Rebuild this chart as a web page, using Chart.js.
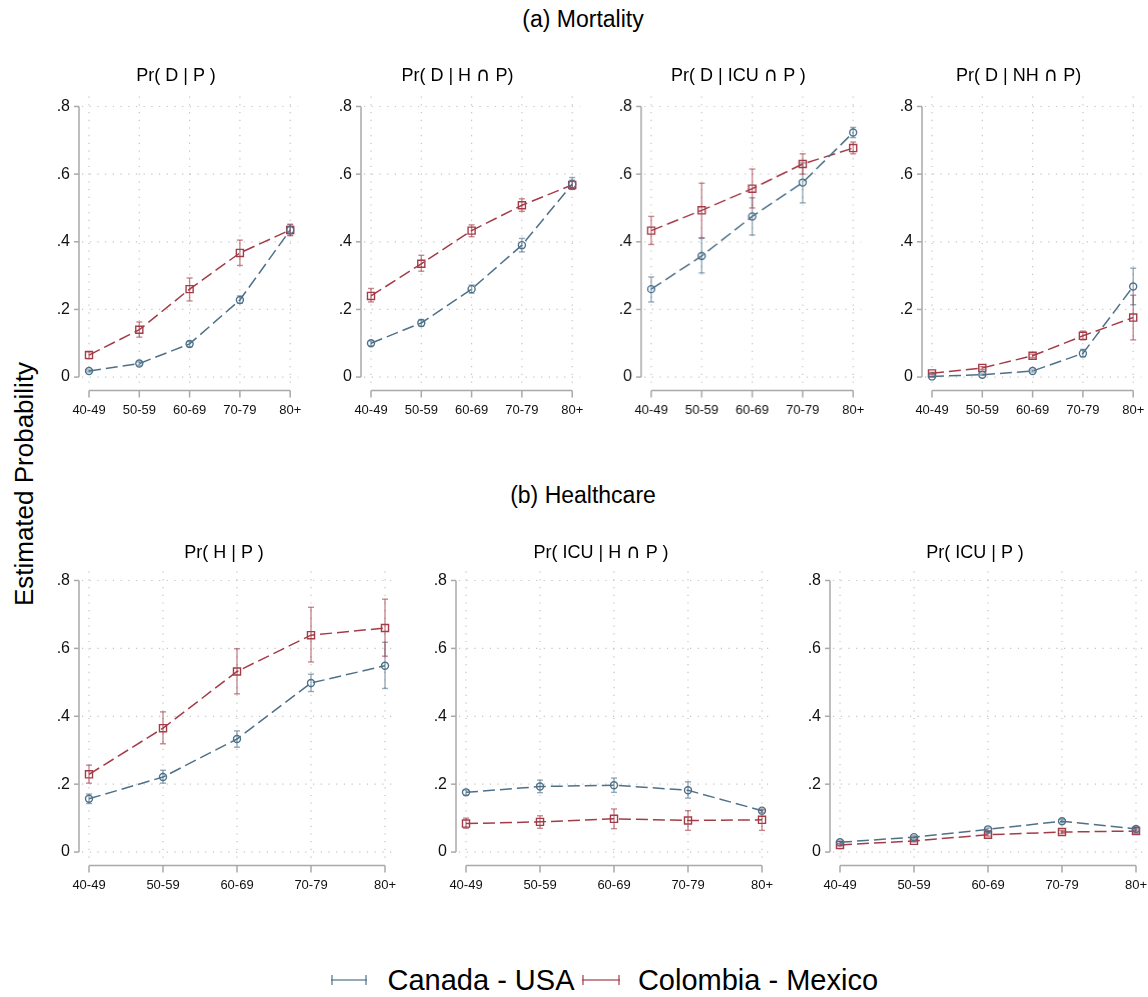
<!DOCTYPE html>
<html>
<head>
<meta charset="utf-8">
<script src="https://cdn.jsdelivr.net/npm/chart.js@4.4.0/dist/chart.umd.min.js"></script>
<style>
  body { margin: 0; width: 1148px; height: 997px; background: #fff; position: relative; overflow: hidden;
         font-family: Arial, "Liberation Sans", sans-serif; color: #000; }
  .box { position: absolute; }
  .txt { position: absolute; transform: translate(-50%, -50%); white-space: nowrap; }
  .cap { font-family: "DejaVu Sans", sans-serif; font-size: 1.1em; line-height: 1; }
  .key { position: absolute; height: 2px; }
  .key:before, .key:after { content: ""; position: absolute; top: -4px; width: 2px; height: 10px; background: inherit; }
  .key:before { left: 0; }
  .key:after { right: 0; }
</style>
</head>
<body>
<div class="txt" style="left:583px;top:19px;font-size:23px">(a) Mortality</div>
<div class="txt" style="left:583px;top:495px;font-size:23px">(b) Healthcare</div>
<div class="txt" style="left:24px;top:484px;font-size:26px;transform:translate(-50%,-50%) rotate(-90deg)">Estimated Probability</div>

<div class="key" style="left:331px;top:979px;width:36px;background:rgba(78,113,138,0.6)"></div>
<div class="txt" style="left:481px;top:980px;font-size:29px">Canada - USA</div>
<div class="key" style="left:582px;top:979px;width:38px;background:rgba(164,60,72,0.6)"></div>
<div class="txt" style="left:758px;top:980px;font-size:29px">Colombia - Mexico</div>

<script>
// ==================== DATA ====================
const ageGroups = ['40-49', '50-59', '60-69', '70-79', '80+'];
const yTicks = [0, 0.2, 0.4, 0.6, 0.8];
const yTickLabels = ['0', '.2', '.4', '.6', '.8'];
const seriesNames = ['Canada - USA', 'Colombia - Mexico'];

// Pr( D | P )
const dP_can   = [0.018, 0.040, 0.098, 0.228, 0.435];
const dP_canLo = [0.015, 0.035, 0.090, 0.218, 0.420];
const dP_canHi = [0.021, 0.045, 0.105, 0.240, 0.450];
const dP_col   = [0.065, 0.140, 0.260, 0.367, 0.435];
const dP_colLo = [0.055, 0.118, 0.225, 0.330, 0.418];
const dP_colHi = [0.075, 0.163, 0.293, 0.405, 0.452];

// Pr( D | H n P )
const dHP_can   = [0.100, 0.160, 0.260, 0.390, 0.570];
const dHP_canLo = [0.093, 0.150, 0.248, 0.370, 0.555];
const dHP_canHi = [0.107, 0.170, 0.272, 0.410, 0.590];
const dHP_col   = [0.240, 0.335, 0.433, 0.508, 0.568];
const dHP_colLo = [0.222, 0.313, 0.415, 0.490, 0.555];
const dHP_colHi = [0.262, 0.360, 0.450, 0.527, 0.582];

// Pr( D | ICU n P )
const dIP_can   = [0.260, 0.358, 0.475, 0.575, 0.723];
const dIP_canLo = [0.222, 0.308, 0.420, 0.515, 0.708];
const dIP_canHi = [0.296, 0.410, 0.530, 0.633, 0.738];
const dIP_col   = [0.433, 0.493, 0.557, 0.630, 0.677];
const dIP_colLo = [0.392, 0.412, 0.500, 0.600, 0.660];
const dIP_colHi = [0.475, 0.573, 0.615, 0.660, 0.695];

// Pr( D | NH n P )
const dNP_can   = [0.002, 0.007, 0.018, 0.070, 0.268];
const dNP_canLo = [0.001, 0.005, 0.015, 0.060, 0.214];
const dNP_canHi = [0.003, 0.009, 0.021, 0.082, 0.322];
const dNP_col   = [0.011, 0.027, 0.063, 0.122, 0.176];
const dNP_colLo = [0.008, 0.023, 0.058, 0.110, 0.110];
const dNP_colHi = [0.014, 0.031, 0.068, 0.136, 0.242];

// Pr( H | P )
const hP_can   = [0.157, 0.221, 0.333, 0.498, 0.549];
const hP_canLo = [0.143, 0.203, 0.309, 0.473, 0.482];
const hP_canHi = [0.171, 0.241, 0.357, 0.524, 0.618];
const hP_col   = [0.229, 0.365, 0.532, 0.639, 0.660];
const hP_colLo = [0.203, 0.319, 0.466, 0.560, 0.577];
const hP_colHi = [0.256, 0.413, 0.599, 0.721, 0.745];

// Pr( ICU | H n P )
const iHP_can   = [0.176, 0.193, 0.197, 0.182, 0.122];
const iHP_canLo = [0.168, 0.175, 0.176, 0.159, 0.117];
const iHP_canHi = [0.183, 0.212, 0.218, 0.207, 0.127];
const iHP_col   = [0.084, 0.089, 0.098, 0.093, 0.095];
const iHP_colLo = [0.070, 0.070, 0.069, 0.064, 0.064];
const iHP_colHi = [0.100, 0.107, 0.127, 0.122, 0.124];

// Pr( ICU | P )
const iP_can   = [0.029, 0.044, 0.067, 0.091, 0.068];
const iP_canLo = [0.026, 0.041, 0.063, 0.086, 0.062];
const iP_canHi = [0.032, 0.048, 0.071, 0.096, 0.074];
const iP_col   = [0.021, 0.033, 0.051, 0.059, 0.062];
const iP_colLo = [0.018, 0.030, 0.047, 0.054, 0.056];
const iP_colHi = [0.024, 0.036, 0.055, 0.064, 0.068];

// ==================== LAYOUT ====================
const BLUE = '#4e718a', BLUE_CI = 'rgba(78,113,138,0.6)';
const RED = '#a43c48', RED_CI = 'rgba(164,60,72,0.6)';
const GRID = '#c4c4c4', AXIS = '#a9a9a9';

const rows = [
  { zeroY: 377, topTickY: 103, chartTop: 93, chartBottom: 384, step: 50.3, titleY: 75, titleDx: 97,
    axes: [79, 360.5, 641.4, 921.6] },
  { zeroY: 852, topTickY: 577, chartTop: 568, chartBottom: 859, step: 74, titleY: 552, titleDx: 145,
    axes: [79, 456, 830] }
];

const CAP = '<span class="cap">\u2229</span>';
const panels = [
  { title: 'Pr( D | P )',              row: 0, col: 0, a: [dP_can, dP_canLo, dP_canHi],   b: [dP_col, dP_colLo, dP_colHi] },
  { title: 'Pr( D | H ' + CAP + ' P)',   row: 0, col: 1, a: [dHP_can, dHP_canLo, dHP_canHi], b: [dHP_col, dHP_colLo, dHP_colHi] },
  { title: 'Pr( D | ICU ' + CAP + ' P )', row: 0, col: 2, a: [dIP_can, dIP_canLo, dIP_canHi], b: [dIP_col, dIP_colLo, dIP_colHi] },
  { title: 'Pr( D | NH ' + CAP + ' P)',  row: 0, col: 3, a: [dNP_can, dNP_canLo, dNP_canHi], b: [dNP_col, dNP_colLo, dNP_colHi] },
  { title: 'Pr( H | P )',              row: 1, col: 0, a: [hP_can, hP_canLo, hP_canHi],   b: [hP_col, hP_colLo, hP_colHi] },
  { title: 'Pr( ICU | H ' + CAP + ' P )', row: 1, col: 1, a: [iHP_can, iHP_canLo, iHP_canHi], b: [iHP_col, iHP_colLo, iHP_colHi] },
  { title: 'Pr( ICU | P )',            row: 1, col: 2, a: [iP_can, iP_canLo, iP_canHi],   b: [iP_col, iP_colLo, iP_colHi] }
];

const PAD_TOP = 10, PAD_RIGHT = 15, Y_W = 50, X_H = 50;

// ==================== PLUGIN (Stata-like axes, grid, CIs) ====================
function seg(ctx, x1, y1, x2, y2) {
  ctx.beginPath(); ctx.moveTo(x1, y1); ctx.lineTo(x2, y2); ctx.stroke();
}

const stataLook = {
  id: 'stataLook',
  beforeDatasetsDraw(chart) {
    const ctx = chart.ctx, a = chart.chartArea, x = chart.scales.x, y = chart.scales.y;
    ctx.save();
    // dotted grid
    ctx.strokeStyle = GRID; ctx.lineWidth = 1.2; ctx.setLineDash([1.2, 6.5]);
    yTicks.forEach(function (v) {
      const py = y.getPixelForValue(v);
      seg(ctx, a.left + 3, py, a.right, py);
    });
    ageGroups.forEach(function (_, i) {
      const px = x.getPixelForValue(i);
      seg(ctx, px, a.top, px, a.bottom);
    });
    ctx.setLineDash([]);
    // y axis from 0 to .8 with ticks
    ctx.strokeStyle = AXIS; ctx.lineWidth = 1.5;
    seg(ctx, a.left, y.getPixelForValue(0), a.left, y.getPixelForValue(0.8));
    yTicks.forEach(function (v) {
      const py = y.getPixelForValue(v);
      seg(ctx, a.left - 5, py, a.left, py);
    });
    // x axis offset below plot
    const ax = a.bottom + 6.5;
    seg(ctx, x.getPixelForValue(0), ax, x.getPixelForValue(ageGroups.length - 1), ax);
    ageGroups.forEach(function (_, i) {
      const px = x.getPixelForValue(i);
      seg(ctx, px, ax, px, ax + 7);
    });
    // confidence intervals
    ctx.lineWidth = 1.4;
    chart.data.datasets.forEach(function (ds) {
      ctx.strokeStyle = ds.ciColor;
      ds.ciLo.forEach(function (lo, i) {
        const px = x.getPixelForValue(i);
        const pl = y.getPixelForValue(lo), ph = y.getPixelForValue(ds.ciHi[i]);
        seg(ctx, px, pl, px, ph);
        seg(ctx, px - 3, pl, px + 3, pl);
        seg(ctx, px - 3, ph, px + 3, ph);
      });
    });
    ctx.restore();
  }
};

// ==================== CHARTS ====================
function makeSeries(name, vals, lo, hi, color, ciColor, style, radius) {
  return {
    label: name,
    data: vals.map(function (v, i) { return { x: i, y: v }; }),
    ciLo: lo, ciHi: hi, ciColor: ciColor,
    borderColor: color, borderWidth: 1.5, borderDash: [12, 5],
    pointStyle: style, pointRadius: radius, pointBorderWidth: 1.4,
    pointBorderColor: color, pointBackgroundColor: 'rgba(255,255,255,0)',
    tension: 0, fill: false
  };
}

panels.forEach(function (p) {
  const r = rows[p.row];
  const axisX = r.axes[p.col];
  const right = axisX + 10 + 4 * r.step + 8;
  const ppu = (r.zeroY - r.topTickY) / 0.8;

  const box = document.createElement('div');
  box.className = 'box';
  box.style.left = (axisX - Y_W) + 'px';
  box.style.top = (r.chartTop - PAD_TOP) + 'px';
  box.style.width = (Y_W + (right - axisX) + PAD_RIGHT) + 'px';
  box.style.height = (PAD_TOP + (r.chartBottom - r.chartTop) + X_H) + 'px';
  const cv = document.createElement('canvas');
  box.appendChild(cv);
  document.body.appendChild(box);

  const t = document.createElement('div');
  t.className = 'txt';
  t.style.left = (axisX + r.titleDx) + 'px';
  t.style.top = r.titleY + 'px';
  t.style.fontSize = '18px';
  t.innerHTML = p.title;
  document.body.appendChild(t);

  new Chart(cv, {
    type: 'line',
    data: {
      datasets: [
        makeSeries(seriesNames[0], p.a[0], p.a[1], p.a[2], BLUE, BLUE_CI, 'circle', 3.5),
        makeSeries(seriesNames[1], p.b[0], p.b[1], p.b[2], RED, RED_CI, 'rect', 5)
      ]
    },
    options: {
      responsive: true,
      maintainAspectRatio: false,
      animation: false,
      layout: { padding: { top: PAD_TOP, right: PAD_RIGHT, left: 0, bottom: 0 } },
      plugins: { legend: { display: false }, tooltip: { enabled: false } },
      scales: {
        x: {
          type: 'linear',
          min: -10 / r.step,
          max: 4 + 8 / r.step,
          afterBuildTicks: function (s) { s.ticks = ageGroups.map(function (_, i) { return { value: i }; }); },
          afterFit: function (s) { s.height = X_H; },
          grid: { display: false, drawTicks: true, tickLength: 14 },
          border: { display: false },
          ticks: {
            padding: 5, autoSkip: false, maxRotation: 0, color: '#111',
            font: { size: 13, family: 'Arial, "Liberation Sans", sans-serif' },
            callback: function (v, i) { return ageGroups[i]; }
          }
        },
        y: {
          min: -(r.chartBottom - r.zeroY) / ppu,
          max: 0.8 + (r.topTickY - r.chartTop) / ppu,
          afterBuildTicks: function (s) { s.ticks = yTicks.map(function (v) { return { value: v }; }); },
          afterFit: function (s) { s.width = Y_W; },
          grid: { display: false, drawTicks: true, tickLength: 5 },
          border: { display: false },
          ticks: {
            padding: 4, color: '#111',
            font: { size: 16, family: 'Arial, "Liberation Sans", sans-serif' },
            callback: function (v, i) { return yTickLabels[i]; }
          }
        }
      }
    },
    plugins: [stataLook]
  });
});
</script>
</body>
</html>
